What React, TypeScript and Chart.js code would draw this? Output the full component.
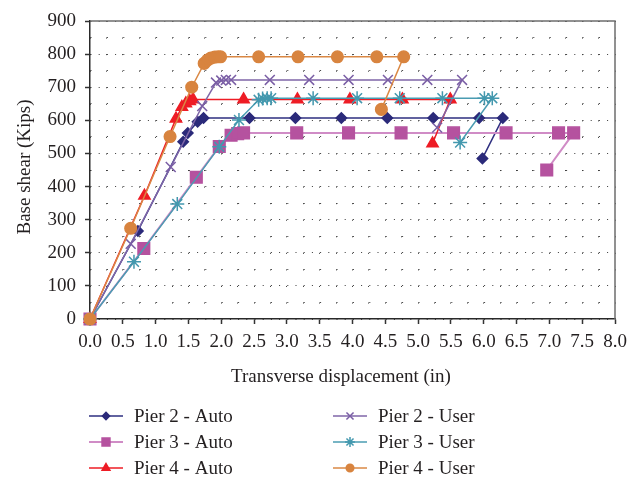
import React, { useEffect, useRef } from 'react';
import { Chart, registerables } from 'chart.js';
import { drawPoint } from 'chart.js/helpers';

Chart.register(...registerables);

// ---- Data ----
const seriesNames = ['Pier 2 - Auto', 'Pier 3 - Auto', 'Pier 4 - Auto', 'Pier 2 - User', 'Pier 3 - User', 'Pier 4 - User'];

const pier2AutoX = [0, 0.73, 1.42, 1.49, 1.64, 1.73, 2.43, 3.13, 3.83, 4.53, 5.23, 5.93, 6.29, 5.98];
const pier2AutoY = [0, 266, 535, 562, 596, 607, 607, 607, 607, 607, 607, 607, 607, 485];

const pier3AutoX = [0, 0.82, 1.62, 1.97, 2.15, 2.25, 2.34, 3.15, 3.94, 4.74, 5.54, 6.34, 7.14, 7.37, 6.96];
const pier3AutoY = [0, 213, 428, 521, 555, 560, 562, 562, 562, 562, 562, 562, 562, 562, 450];

const pier4AutoX = [0, 0.83, 1.31, 1.40, 1.46, 1.52, 1.57, 2.34, 3.16, 3.96, 4.76, 5.49, 5.22];
const pier4AutoY = [0, 372, 605, 640, 651, 658, 663, 663, 663, 663, 663, 663, 530];

const pier2UserX = [0, 0.62, 1.23, 1.71, 1.92, 2.0, 2.07, 2.15, 2.74, 3.34, 3.94, 4.54, 5.14, 5.67, 5.29];
const pier2UserY = [0, 227, 459, 643, 714, 720, 722, 722, 722, 722, 722, 722, 722, 722, 578];

const pier3UserX = [0, 0.67, 1.33, 1.97, 2.27, 2.57, 2.63, 2.70, 2.76, 3.40, 4.07, 4.72, 5.37, 6.01, 6.13, 5.64];
const pier3UserY = [0, 173, 347, 520, 601, 662, 666, 667, 667, 667, 667, 667, 667, 667, 667, 533];

const pier4UserX = [0, 0.62, 1.22, 1.55, 1.74, 1.79, 1.84, 1.90, 1.95, 1.99, 2.57, 3.17, 3.77, 4.37, 4.78, 4.44];
const pier4UserY = [0, 274, 551, 700, 772, 782, 788, 791, 792, 792, 792, 792, 792, 792, 792, 633];

const xTitle = 'Transverse displacement (in)';
const yTitle = 'Base shear (Kips)';

const FONT = "'Liberation Serif', 'Times New Roman', serif";
const FS = 19;
const TEXT = '#231F20';

type Style = { line: string; marker: string; point: string; r: number; lr: number; lw: number };
const styles: Style[] = [
  { line: '#2E2F80', marker: '#2B2A7A', point: 'rectRot', r: 5.2, lr: 3.6, lw: 1.5 },
  { line: '#D08CC6', marker: '#B5529F', point: 'rect', r: 8.2, lr: 5.6, lw: 2 },
  { line: '#EE1C25', marker: '#EE1C25', point: 'triangle', r: 6.5, lr: 4.5, lw: 1.5 },
  { line: '#7F66A8', marker: '#7A5EA5', point: 'crossRot', r: 7, lr: 5, lw: 1.5 },
  { line: '#4A9CB2', marker: '#4398AE', point: 'star', r: 7, lr: 5, lw: 1.5 },
  { line: '#DA8844', marker: '#D8843F', point: 'circle', r: 5.8, lr: 3.8, lw: 1.5 },
];

const xs = [pier2AutoX, pier3AutoX, pier4AutoX, pier2UserX, pier3UserX, pier4UserX];
const ys = [pier2AutoY, pier3AutoY, pier4AutoY, pier2UserY, pier3UserY, pier4UserY];

const isHalf = (v: number) => Math.abs(v * 2 - Math.round(v * 2)) < 1e-6;
const isHundred = (v: number) => Math.abs(v / 100 - Math.round(v / 100)) < 1e-6;

const extrasPlugin = {
  id: 'extras',
  afterDraw(chart: any) {
    const ctx = chart.ctx as CanvasRenderingContext2D;
    const { left, right, top, bottom } = chart.chartArea;
    ctx.save();
    // frame top & right
    ctx.strokeStyle = '#6E6E6E';
    ctx.lineWidth = 1.5;
    ctx.beginPath();
    ctx.moveTo(left, top);
    ctx.lineTo(right, top);
    ctx.lineTo(right, bottom);
    ctx.stroke();

    // titles
    ctx.fillStyle = TEXT;
    ctx.font = `${FS}px ${FONT}`;
    ctx.textAlign = 'center';
    ctx.textBaseline = 'middle';
    ctx.fillText(xTitle, 341, 377);
    ctx.save();
    ctx.translate(25, 167);
    ctx.rotate(-Math.PI / 2);
    ctx.fillText(yTitle, 0, 0);
    ctx.restore();

    // legend
    const colX = [89, 333];
    const rowY = [416, 442, 468];
    ctx.textAlign = 'left';
    for (let i = 0; i < seriesNames.length; i++) {
      const s = styles[i];
      const cx = colX[Math.floor(i / 3)];
      const cy = rowY[i % 3];
      ctx.strokeStyle = s.line;
      ctx.lineWidth = s.lw;
      ctx.beginPath();
      ctx.moveTo(cx, cy);
      ctx.lineTo(cx + 34, cy);
      ctx.stroke();
      ctx.fillStyle = s.marker;
      ctx.strokeStyle = s.marker;
      ctx.lineWidth = 1.5;
      drawPoint(ctx, { pointStyle: s.point as any, radius: s.lr, rotation: 0, borderWidth: 1.5 }, cx + 17, cy);
      ctx.fillStyle = TEXT;
      ctx.fillText(seriesNames[i], cx + 45, cy + 1);
    }
    ctx.restore();
  },
};

export default function App() {
  const ref = useRef<HTMLCanvasElement>(null);
  useEffect(() => {
    const datasets = seriesNames.map((name, i) => ({
      label: name,
      data: xs[i].map((x, j) => ({ x, y: ys[i][j] })),
      borderColor: styles[i].line,
      borderWidth: styles[i].lw,
      backgroundColor: styles[i].marker,
      pointBackgroundColor: styles[i].marker,
      pointBorderColor: styles[i].marker,
      pointBorderWidth: 1.5,
      pointStyle: styles[i].point,
      pointRadius: styles[i].r,
      pointHoverRadius: styles[i].r,
      fill: false,
      tension: 0,
      clip: false,
      order: 6 - i,
    }));
    const chart = new Chart(ref.current!, {
      type: 'line',
      data: { datasets } as any,
      options: {
        responsive: false,
        animation: false,
        events: [],
        devicePixelRatio: 1,
        layout: { padding: { left: 0, top: 21, right: 23, bottom: 0 } },
        plugins: { legend: { display: false }, tooltip: { enabled: false } },
        scales: {
          x: {
            type: 'linear',
            min: 0,
            max: 8,
            afterFit: (s: any) => { s.height = 162; },
            ticks: {
              stepSize: 0.25,
              autoSkip: false,
              maxRotation: 0,
              minRotation: 0,
              padding: 7,
              color: TEXT,
              font: { family: FONT, size: FS },
              callback: (v: any) => (isHalf(Number(v)) ? Number(v).toFixed(1) : ''),
            },
            grid: {
              color: '#3A3A3A',
              lineWidth: 1,
              drawTicks: true,
              tickLength: 5,
              tickWidth: 1.5,
              tickColor: (c: any) => (c.tick && isHalf(c.tick.value) ? '#333333' : 'rgba(0,0,0,0)'),
            },
            border: { display: true, color: '#2A2A2A', width: 1.5, dash: [1, 15.56] },
          },
          y: {
            type: 'linear',
            min: 0,
            max: 900,
            afterFit: (s: any) => { s.width = 90; },
            ticks: {
              stepSize: 50,
              autoSkip: false,
              padding: 9,
              color: TEXT,
              font: { family: FONT, size: FS },
              callback: (v: any) => (isHundred(Number(v)) ? String(v) : ''),
            },
            grid: {
              color: '#3A3A3A',
              lineWidth: 1,
              drawTicks: true,
              tickLength: 5,
              tickWidth: 1.5,
              tickColor: (c: any) => (c.tick && isHundred(c.tick.value) ? '#333333' : 'rgba(0,0,0,0)'),
            },
            border: {
              display: true,
              color: '#2A2A2A',
              width: 1.5,
              dash: (c: any) => (c.tick && isHundred(c.tick.value) ? [1, 7.2] : [1, 15.4]),
            },
          },
        },
      } as any,
      plugins: [extrasPlugin],
    });
    return () => chart.destroy();
  }, []);
  return (
    <div style={{ position: 'absolute', left: 0, top: 0, width: 638, height: 481, background: '#fff' }}>
      <canvas ref={ref} width={638} height={481} style={{ display: 'block' }} />
    </div>
  );
}
